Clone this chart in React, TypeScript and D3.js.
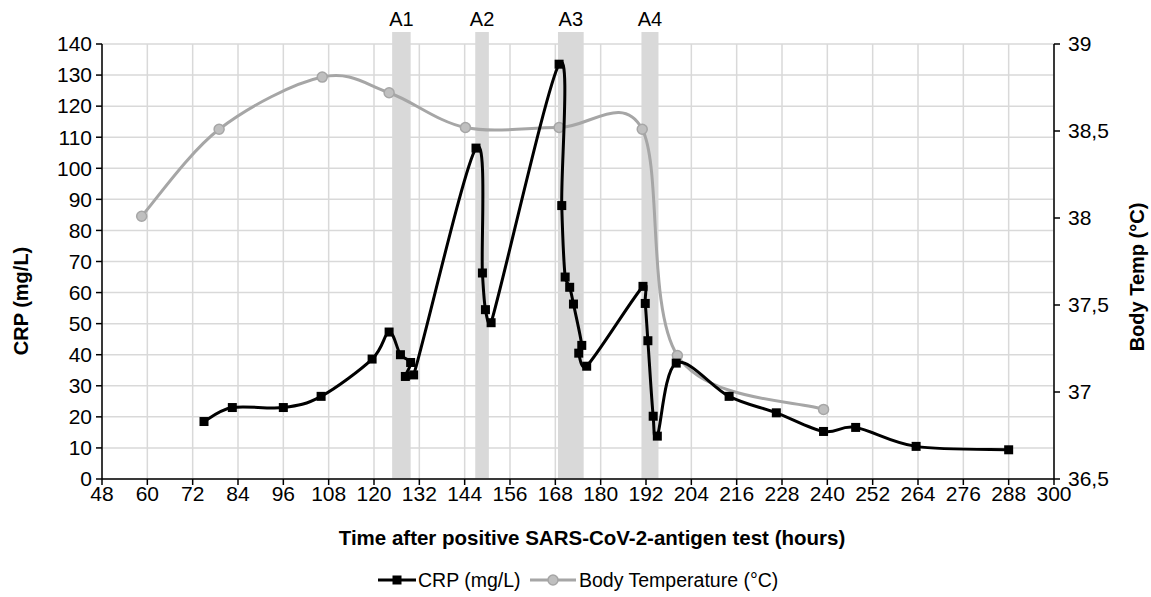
import React from "react";
import * as d3 from "d3";

const crpHours = [75, 82.5, 96, 106, 119.5, 124, 127, 129.7, 128.3, 130.5, 147, 148.7, 149.5, 151, 169, 169.7, 170.6, 171.8, 172.8, 175, 174.2, 176.3, 191.2, 191.8, 192.5, 193.9, 195, 200, 214, 226.5, 239, 247.5, 263.5, 288];
const crpValues = [18.5, 23, 23, 26.6, 38.6, 47.3, 40, 37.5, 33, 33.5, 106.5, 66.3, 54.5, 50.3, 133.5, 88, 65, 61.7, 56.3, 43, 40.5, 36.3, 62, 56.5, 44.5, 20.2, 13.8, 37.3, 26.6, 21.3, 15.3, 16.6, 10.5, 9.4];

const tempHours = [58.5, 79, 106.3, 124, 144.2, 169, 191, 200.3, 239];
const tempValues = [38.01, 38.51, 38.81, 38.72, 38.52, 38.52, 38.51, 37.21, 36.9];

const bandLabels = ["A1", "A2", "A3", "A4"];
const bandStart = [124.8, 146.8, 168.7, 190.8];
const bandEnd = [129.7, 150.4, 175.5, 195.3];

const xTicks = d3.range(48, 301, 12);
const yLeftTicks = d3.range(0, 141, 10);
const yRightTicks = [36.5, 37, 37.5, 38, 38.5, 39];

const W = 1151;
const H = 597;
const FONT = "'Liberation Sans', Arial, sans-serif";

type P = [number, number];

// Excel-style smoothed line (Bezier with limited control arms)
function smoothPath(pts: P[]): string {
  const p = d3.path();
  if (!pts.length) return "";
  p.moveTo(pts[0][0], pts[0][1]);
  const dist = (a: P, b: P) => Math.hypot(a[0] - b[0], a[1] - b[1]);
  for (let i = 0; i < pts.length - 1; i++) {
    const p1 = pts[i];
    const p2 = pts[i + 1];
    const p0 = i > 0 ? pts[i - 1] : p1;
    const p3 = i + 2 < pts.length ? pts[i + 2] : p2;
    const d12 = dist(p1, p2);
    const d02 = dist(p0, p2);
    const d13 = dist(p1, p3);
    const f1 = d02 / 6 < d12 / 2 ? 1 / 6 : d12 / (2 * d02);
    const f2 = d13 / 6 < d12 / 2 ? 1 / 6 : d12 / (2 * d13);
    const c1: P = [p1[0] + f1 * (p2[0] - p0[0]), p1[1] + f1 * (p2[1] - p0[1])];
    const c2: P = [p2[0] - f2 * (p3[0] - p1[0]), p2[1] - f2 * (p3[1] - p1[1])];
    p.bezierCurveTo(c1[0], c1[1], c2[0], c2[1], p2[0], p2[1]);
  }
  return p.toString();
}

export default function App() {
  const x = d3.scaleLinear().domain([48, 300]).range([102, 1054]);
  const yL = d3.scaleLinear().domain([0, 140]).range([479, 44]);
  const yR = d3.scaleLinear().domain([36.5, 39]).range([479, 44]);

  const crpPts: P[] = crpValues.map((v, i) => [x(crpHours[i]), yL(v)]);
  const tempPts: P[] = tempValues.map((v, i) => [x(tempHours[i]), yR(v)]);

  const fmtR = (v: number) => String(v).replace(".", ",");

  return (
    <svg width={W} height={H} style={{ position: "absolute", left: 0, top: 0, background: "#fff" }} fontFamily={FONT}>
      {/* grid */}
      {xTicks.map((t) => (
        <line key={"gx" + t} x1={x(t)} x2={x(t)} y1={yL(140)} y2={yL(0)} stroke="#d9d9d9" strokeWidth={1.5} />
      ))}
      {yLeftTicks.map((t) => (
        <line key={"gy" + t} x1={x(48)} x2={x(300)} y1={yL(t)} y2={yL(t)} stroke="#d9d9d9" strokeWidth={1.5} />
      ))}
      {/* bands */}
      {bandLabels.map((b, i) => (
        <g key={b}>
          <rect x={x(bandStart[i])} y={32} width={x(bandEnd[i]) - x(bandStart[i])} height={yL(0) - 32} fill="#d9d9d9" />
          <text x={(x(bandStart[i]) + x(bandEnd[i])) / 2} y={26} textAnchor="middle" fontSize={20} fill="#000">
            {b}
          </text>
        </g>
      ))}
      {/* axes */}
      <line x1={x(48)} x2={x(48)} y1={yL(0)} y2={yL(140)} stroke="#000" strokeWidth={1.5} />
      <line x1={x(300)} x2={x(300)} y1={yL(0)} y2={yL(140)} stroke="#000" strokeWidth={1.5} />
      <line x1={x(48)} x2={x(300)} y1={yL(0)} y2={yL(0)} stroke="#000" strokeWidth={1.5} />
      {yLeftTicks.map((t) => (
        <g key={"yl" + t}>
          <line x1={x(48) - 6} x2={x(48)} y1={yL(t)} y2={yL(t)} stroke="#000" strokeWidth={1.5} />
          <text x={x(48) - 10} y={yL(t)} dy="0.35em" textAnchor="end" fontSize={21}>
            {t}
          </text>
        </g>
      ))}
      {yRightTicks.map((t) => (
        <g key={"yr" + t}>
          <line x1={x(300)} x2={x(300) + 6} y1={yR(t)} y2={yR(t)} stroke="#000" strokeWidth={1.5} />
          <text x={x(300) + 14} y={yR(t)} dy="0.35em" textAnchor="start" fontSize={21}>
            {fmtR(t)}
          </text>
        </g>
      ))}
      {xTicks.map((t) => (
        <g key={"xt" + t}>
          <line x1={x(t)} x2={x(t)} y1={yL(0)} y2={yL(0) + 6} stroke="#000" strokeWidth={1.5} />
          <text x={x(t)} y={yL(0) + 22} textAnchor="middle" fontSize={21}>
            {t}
          </text>
        </g>
      ))}
      {/* titles */}
      <text x={592} y={545} textAnchor="middle" fontSize={20.5} fontWeight="bold">
        Time after positive SARS-CoV-2-antigen test (hours)
      </text>
      <text transform="translate(28,301) rotate(-90)" textAnchor="middle" fontSize={20} fontWeight="bold">
        CRP (mg/L)
      </text>
      <text transform="translate(1144,277) rotate(-90)" textAnchor="middle" fontSize={20} fontWeight="bold">
        Body Temp (°C)
      </text>
      {/* series */}
      <path d={smoothPath(tempPts)} fill="none" stroke="#a6a6a6" strokeWidth={3} />
      {tempPts.map((pt, i) => (
        <circle key={"tc" + i} cx={pt[0]} cy={pt[1]} r={5} fill="#bfbfbf" stroke="#a6a6a6" strokeWidth={1.5} />
      ))}
      <path d={smoothPath(crpPts)} fill="none" stroke="#000" strokeWidth={3} />
      {crpPts.map((pt, i) => (
        <rect key={"cr" + i} x={pt[0] - 4.5} y={pt[1] - 4.5} width={9} height={9} fill="#000" />
      ))}
      {/* legend */}
      <line x1={378} x2={416} y1={580} y2={580} stroke="#000" strokeWidth={3} />
      <rect x={392.5} y={575.5} width={9} height={9} fill="#000" />
      <text x={418} y={580} dy="0.35em" fontSize={19.5}>
        CRP (mg/L)
      </text>
      <line x1={530} x2={576} y1={580} y2={580} stroke="#a6a6a6" strokeWidth={3} />
      <circle cx={553} cy={580} r={5} fill="#bfbfbf" stroke="#a6a6a6" strokeWidth={1.5} />
      <text x={579} y={580} dy="0.35em" fontSize={19.5}>
        Body Temperature (°C)
      </text>
    </svg>
  );
}
